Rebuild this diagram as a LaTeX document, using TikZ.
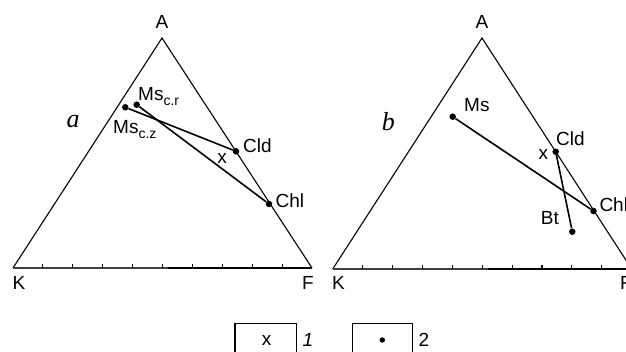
\documentclass[tikz,border=0pt]{standalone}
\usepackage{fontspec}
\setmainfont{Liberation Sans}
\newfontfamily\serifit{Liberation Serif}
\usetikzlibrary{calc}
\begin{document}
\begin{tikzpicture}[x=1pt,y=-1pt,
  lbl/.style={font=\fontsize{19}{19}\selectfont, inner sep=0pt},
  lblw/.style={lbl, anchor=base west},
  panel/.style={font=\fontsize{26}{26}\selectfont\serifit\itshape, inner sep=0pt},
  pt/.style={circle, fill=black, inner sep=0pt, minimum size=6.5pt},
  tie/.style={line width=1.6pt},
  edge/.style={line width=1.1pt},
  tickmark/.style={line width=1.1pt},
  legbox/.style={line width=1.3pt}]
\useasboundingbox (0,0) rectangle (626,351);
\clip (0,0) rectangle (626,351);
\newcommand{\subtxt}[1]{\raisebox{-0.28em}{\fontsize{14}{14}\selectfont #1}}

% ---------- panel a ----------
\coordinate (aK) at (13,268);
\coordinate (aF) at (312,268);
\coordinate (aA) at (162,38);
\draw[edge] (aK) -- (aA) -- (aF);
\draw[edge, black!75] (aK) -- ($(aK)!0.52!(aF)$);
\draw[edge] ($(aK)!0.52!(aF)$) -- (aF);
\foreach \i in {1,...,9} \draw[tickmark] ($(aK)!\i/10!(aF)$) -- ++(0,-4);
\node[lbl] (aAl) at (162,22) {A};
\node[lbl] (aKl) at (19,283) {K};
\node[lbl] (aFl) at (308,283) {F};
\node[panel] (aa) at (73,122) {a};

\node[pt] (aMsz) at (125.3,107.3) {};
\node[pt] (aMsr) at (136.7,104.7) {};
\node[pt] (aCld) at (236,151.3) {};
\node[pt] (aChl) at (269,204) {};
\draw[tie] (aMsz) -- (aCld);
\draw[tie] (aMsr) -- (aChl);
\node[lblw] (aMsrl) at (138,100) {Ms\subtxt{c.r}};
\node[lblw] (aMszl) at (113,133) {Ms\subtxt{c.z}};
\node[lblw] (aCldl) at (243,152) {Cld};
\node[lblw] (aChll) at (275.5,207) {Chl};
\node[lbl] (ax) at (222,158) {x};

% ---------- panel b ----------
\coordinate (bK) at (332.7,269);
\coordinate (bF) at (631.7,269);
\coordinate (bA) at (482,38);
\draw[edge] (bK) -- (bA) -- (bF);
\draw[edge, black!75] (bK) -- ($(bK)!0.52!(bF)$);
\draw[edge] ($(bK)!0.52!(bF)$) -- (bF);
\foreach \i in {1,...,9} \draw[tickmark] ($(bK)!\i/10!(bF)$) -- ++(0,-4);
\node[lbl] (bAl) at (482,22) {A};
\node[lbl] (bKl) at (338.5,283) {K};
\node[lbl] (bFl) at (626,283) {F};
\node[panel] (bb) at (388.3,122) {b};

\node[pt] (bMs) at (452.7,116.7) {};
\node[pt] (bCld) at (555.7,151.7) {};
\node[pt] (bChl) at (593.5,211) {};
\node[pt] (bBt) at (572.3,231.7) {};
\draw[tie] (bMs) -- (bChl);
\draw[tie] (bCld) -- (bBt);
\node[lblw] (bMsl) at (464,111.7) {Ms};
\node[lblw] (bCldl) at (556,145) {Cld};
\node[lblw] (bChll) at (599.3,211) {Chl};
\node[lblw] (bBtl) at (540.7,224) {Bt};
\node[lbl] (bx) at (543.3,154.3) {x};

% ---------- legend ----------
\draw[legbox] (235,352) -- (235,323.3) -- (296.5,323.3) -- (296.5,352);
\draw[legbox] (352.3,352) -- (352.3,323.3) -- (412.3,323.3) -- (412.3,352);
\node[lbl] (l1x) at (266.7,340) {x};
\node[lbl] (l1n) at (308,340) {\itshape 1};
\node[circle, fill=black, inner sep=0pt, minimum size=5.5pt] (l2d) at (382.3,340) {};
\node[lbl] (l2n) at (424,340) {2};
\end{tikzpicture}
\end{document}
